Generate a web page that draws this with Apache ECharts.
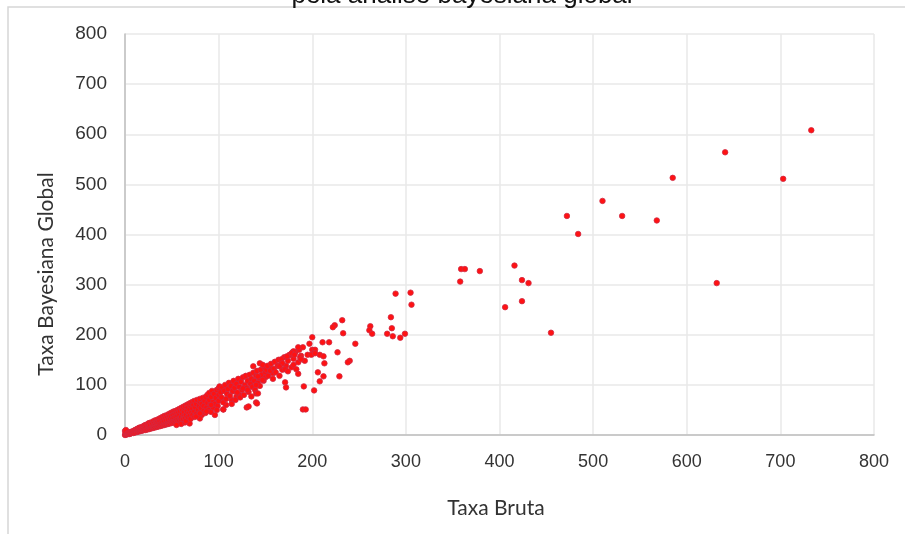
<!DOCTYPE html>
<html>
<head>
<meta charset="utf-8">
<script src="https://cdn.jsdelivr.net/npm/echarts@6/dist/echarts.min.js"></script>
<style>
html,body{margin:0;padding:0;background:#fff;}
#chart{width:905px;height:534px;}
</style>
</head>
<body>
<div id="chart"></div>
<script>
// ---- Data (Taxa Bruta, Taxa Bayesiana Global) ----
const xTicks = [0, 100, 200, 300, 400, 500, 600, 700, 800];
const yTicks = [0, 100, 200, 300, 400, 500, 600, 700, 800];
const xTitle = 'Taxa Bruta';
const yTitle = 'Taxa Bayesiana Global';
const chartTitle = 'pela análise bayesiana global';

const bandNearOrigin = [
  [0,0],[0.5,1],[1,2],[1,5],[2,1],[2,3],[0,8],[1,10],[3,2],[3,4],[4,3],[4,5],[5,2],[5,5],[6,3],[6,6],[7,4],[7,6],[8,5],[8,7],[9,4],[9,8],[10,6],[10,9],
  [11,5],[11,10],[12,7],[12,11],[13,6],[13,12],[14,8],[14,13],[15,7],[15,10],[15,14],[16,9],[16,15],[17,8],[17,12],[18,10],[18,16],[19,9],[19,14],[20,10],[20,13],[20,18],[21,11],[21,19],[22,10],[22,15],[22,20],[23,12],[23,17],[24,11],[24,21],[25,13],[25,18],[25,23],[26,12],[26,16],[26,24],[27,14],[27,20],[28,13],[28,25],[29,15],[29,22],[30,14],[30,18],[30,27]
];
const bandLow = [
  [31,16],[31,24],[32,15],[32,20],[32,29],[33,17],[33,26],[34,16],[34,22],[34,30],[35,18],[35,27],[36,17],[36,24],[36,32],[37,19],[37,28],[38,18],[38,22],[38,34],[39,20],[39,30],[40,19],[40,25],[40,36],[41,21],[41,32],[42,20],[42,27],[42,38],[43,22],[43,34],[44,21],[44,29],[44,39],[45,23],[45,35],[46,22],[46,30],[46,41],[47,24],[47,37],[48,23],[48,32],[48,43],[49,26],[49,38],[50,24],[50,30],[50,45],[51,27],[51,40],[52,25],[52,34],[52,47],[53,28],[53,42],[54,27],[54,36],[54,48],[55,30],[55,44],[56,28],[56,38],[56,50],[57,31],[57,45],[58,29],[58,40],[58,52],[59,33],[59,47],[60,30],[60,36],[60,54],[60,22],[55,20],[64,25],[69,23]
];
const bandMid = [
  [61,42],[61,50],[62,32],[62,56],[63,38],[63,46],[64,34],[64,53],[64,58],[65,40],[65,28],[66,48],[66,60],[67,36],[67,55],[68,44],[68,62],[69,38],[69,51],[70,32],[70,58],[70,64],[71,45],[72,40],[72,53],[72,66],[73,60],[74,36],[74,47],[74,68],[75,55],[76,42],[76,62],[77,70],[78,50],[78,38],[79,58],[80,45],[80,66],[80,72],[81,54],[82,40],[82,62],[83,74],[84,48],[84,58],[85,68],[86,44],[86,76],[87,55],[88,64],[88,80],[89,50],[90,70],[90,84],[91,60],[92,46],[92,76],[93,88],[94,55],[94,66],[95,82],[96,62],[97,74],[98,90],[99,58],[100,68],[100,80],[100,93],
  [80,33],[76,37],[80,43],[87,47],[92,60],[96,40],[98,50],[101,97],[105,51],[108,60],[108,93],[115,103],[115,87],[119,77],[122,80],[122,110],[114,70]
];
const bandUpper = [
  [102,85],[103,75],[104,95],[105,65],[106,88],[107,100],[108,72],[109,82],[110,92],[111,104],[112,78],[113,98],[114,62],[115,88],[116,108],[117,94],[118,70],[119,102],[120,85],[121,112],[122,96],[123,75],[124,106],[125,90],[126,115],[127,80],[128,100],[129,118],[130,94],[131,108],[132,86],[133,120],[134,102],[135,112],[136,96],[137,124],[138,108],[139,90],[140,118],[141,128],[142,104],[143,114],[144,98],[145,130],[146,120],[148,108],[149,135],[150,125],[150,115],
  [126,93],[131,90],[135,77],[140,100],[140,83],[140,65],[130,55],[137,137],[144,143],[147,140],[151,130],[155,133],[158,123],[142,117],[147,110]
];
const bandHigh = [
  [152,138],[153,118],[155,128],[156,142],[158,112],[159,132],[160,146],[161,125],[163,138],[164,150],[165,118],[167,142],[168,130],[170,155],[172,138],[174,148],[176,160],[178,135],[180,152],[182,165],[185,145],[186,170],[188,158],[190,175],[192,148],[195,160],[197,182],
  [179,165],[176,160],[173,157],[167,151],[168,143],[165,137],[171,131],[174,127],[180,140],[183,131],[187,155],[188,151],[185,175],[180,167],[178,163],[181,160],[185,122],[171,105],[172,95],[142,83],[141,63],[132,57],[105,51]
];
const sparseUpper = [
  [200,195],[211,185],[218,185],[227,165],[240,148],[238,145],[213,143],[229,117],[212,117],[208,107],[202,89],[191,97],[190,51],[193,51],
  [200,170],[203,170],[201,163],[208,160],[212,157],[199,160],[203,163],[206,125],[232,229],[224,219],[222,215],[233,203],[246,182],
  [262,217],[261,209],[264,202],[285,213],[280,202],[286,197],[294,194],[299,202],[284,235],[289,282],[305,284],[306,260]
];
const outliers = [
  [733,608],[641,564],[703,511],[585,513],[510,467],[472,437],[531,437],[568,428],[484,401],[632,303],
  [416,338],[424,309],[431,303],[424,267],[406,255],[455,204],[359,331],[363,331],[379,327],[358,306]
];

const allPoints = [].concat(bandNearOrigin, bandLow, bandMid, bandUpper, bandHigh, sparseUpper, outliers);

const chart = echarts.init(document.getElementById('chart'), null, {renderer: 'canvas'});
const labelColor = '#333333';
const titleFont = 'Lato, "Open Sans", sans-serif';
chart.setOption({
  animation: false,
  backgroundColor: '#ffffff',
  graphic: [
    {type: 'rect', shape: {x: 8, y: 7, width: 1000, height: 1000}, style: {fill: 'none', stroke: '#d6d6d6', lineWidth: 1.5}, silent: true, z: -1},
    {type: 'text', x: 462, y: -4, style: {text: chartTitle, font: '26px "Liberation Sans", Arial, sans-serif', fill: '#111', align: 'center', verticalAlign: 'middle'}, silent: true},
    {type: 'text', x: 496, y: 508, style: {text: xTitle, font: '21px ' + titleFont, fill: labelColor, align: 'center', verticalAlign: 'middle'}, silent: true},
    {type: 'text', x: 46, y: 274, rotation: Math.PI / 2, style: {text: yTitle, font: '21px ' + titleFont, fill: labelColor, align: 'center', verticalAlign: 'middle'}, silent: true}
  ],
  grid: {left: 125, top: 34, width: 749, height: 401},
  xAxis: {
    type: 'value', min: xTicks[0], max: xTicks[xTicks.length - 1], interval: 100,
    axisLine: {show: true, lineStyle: {color: '#bfbfbf', width: 1.5}},
    axisTick: {show: false},
    axisLabel: {margin: 18, fontSize: 18, color: labelColor, fontFamily: '"Liberation Sans Narrow", "Liberation Sans", Arial, sans-serif'},
    splitLine: {show: true, lineStyle: {color: '#e8e8e8', width: 1.5}}
  },
  yAxis: {
    type: 'value', min: yTicks[0], max: yTicks[yTicks.length - 1], interval: 100,
    axisLine: {show: true, lineStyle: {color: '#bfbfbf', width: 1.5}},
    axisTick: {show: false},
    axisLabel: {margin: 18, fontSize: 19, color: labelColor, fontFamily: '"Liberation Sans", Arial, sans-serif'},
    splitLine: {show: true, lineStyle: {color: '#e8e8e8', width: 1.5}}
  },
  series: [{
    type: 'scatter',
    data: allPoints,
    symbol: 'circle',
    symbolSize: 5.5,
    itemStyle: {color: '#ff1212', borderColor: '#d02a44', borderWidth: 0.8, opacity: 1}
  }]
});
</script>
</body>
</html>
